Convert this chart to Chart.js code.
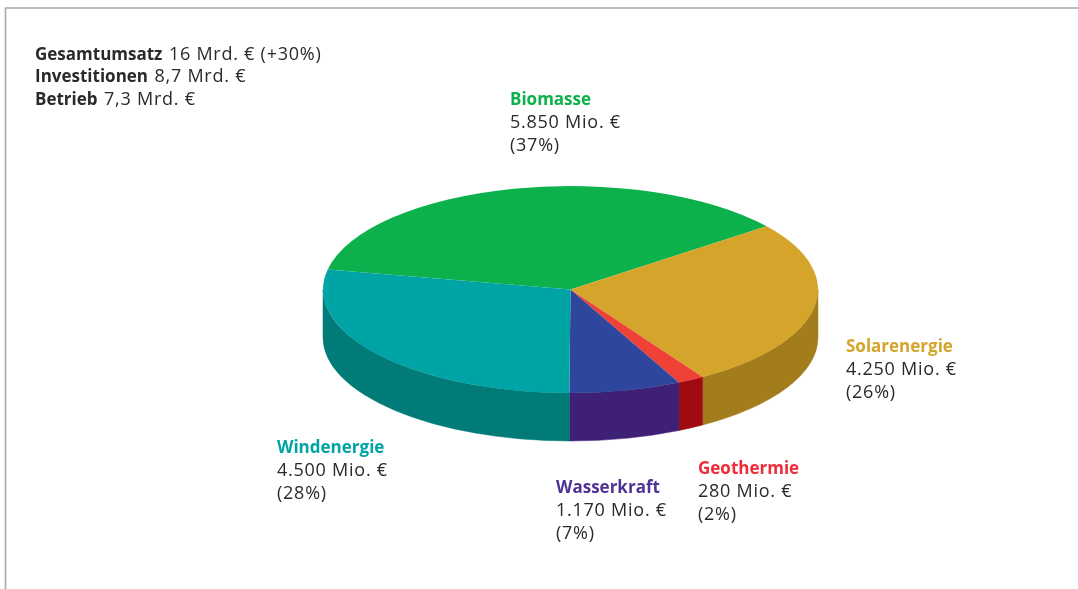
<!DOCTYPE html>
<html lang="de">
<head>
<meta charset="utf-8">
<style>html,body{margin:0;padding:0;background:#fff;overflow:hidden}#wrap{position:absolute;left:0;top:0;width:1078px;height:589px}</style>
<script src="https://cdn.jsdelivr.net/npm/chart.js@4"></script>
</head>
<body>
<div id="wrap"><canvas id="c" width="1078" height="589"></canvas></div>
<script>
const categories = ['Biomasse','Solarenergie','Geothermie','Wasserkraft','Windenergie'];
const values = [5850,4250,280,1170,4500];
const amountLabels = ['5.850 Mio. €','4.250 Mio. €','280 Mio. €','1.170 Mio. €','4.500 Mio. €'];
const percentLabels = ['(37%)','(26%)','(2%)','(7%)','(28%)'];
const summaryNames = ['Gesamtumsatz','Investitionen','Betrieb'];
const summaryValues = ['16 Mrd. € (+30%)','8,7 Mrd. €','7,3 Mrd. €'];

const topColors = ['#0DB14B','#D4A52A','#EF4136','#2E479C','#00A4A4'];
const sideColors = ['#0A8A3A','#A37D1C','#A00B12','#3E2176','#007B78'];
const labelColors = ['#0DB14B','#D4A52A','#EF2B3A','#4F3396','#00A4A4'];
const labelPos = [[510,105],[846,352],[698,474],[556,493],[277,453]];
const squash = 103.5/247.5, depth = 48, fontName = '"Open Sans"', textColor = '#2b2a2b';

const pie3d = {
  id:'pie3d',
  beforeDatasetsDraw(chart){
    const ctx = chart.ctx, arcs = chart.getDatasetMeta(0).data;
    ctx.save();
    ctx.strokeStyle='#a9a9a9'; ctx.lineWidth=1.6;
    ctx.beginPath(); ctx.moveTo(5.5,589); ctx.lineTo(5.5,8); ctx.lineTo(1078,8); ctx.stroke();
    ctx.restore();
    arcs.forEach((a,i)=>{
      const from = Math.max(a.startAngle,0), to = Math.min(a.endAngle,Math.PI);
      if(to<=from) return;
      const rx=a.outerRadius, ry=rx*squash;
      ctx.save();
      ctx.fillStyle=ctx.strokeStyle=sideColors[i]; ctx.lineWidth=.5;
      ctx.beginPath();
      ctx.ellipse(a.x,a.y,rx,ry,0,from,to,false);
      ctx.ellipse(a.x,a.y+depth,rx,ry,0,to,from,true);
      ctx.closePath(); ctx.fill(); ctx.stroke();
      ctx.restore();
    });
    const c = arcs[0];
    ctx.save();
    ctx.translate(c.x,c.y); ctx.scale(1,squash); ctx.translate(-c.x,-c.y);
  },
  afterDatasetsDraw(chart){
    const ctx = chart.ctx;
    ctx.restore();
    ctx.save();
    ctx.textBaseline='alphabetic'; ctx.textAlign='left';
    const bold=`700 17px ${fontName}`, regular=`400 18px ${fontName}`, spacing='0.75px';
    const setRegular=()=>{ctx.font=regular;ctx.letterSpacing=spacing;};
    const setBold=()=>{ctx.font=bold;ctx.letterSpacing='0px';};
    summaryNames.forEach((n,i)=>{
      const y=60+i*22.4;
      setBold(); ctx.fillStyle=textColor;
      ctx.fillText(n,35,y);
      const w=ctx.measureText(n).width+6.5;
      setRegular();
      ctx.fillText(summaryValues[i],35+w,y);
    });
    categories.forEach((n,i)=>{
      const [x,y]=labelPos[i];
      setBold(); ctx.fillStyle=labelColors[i];
      ctx.fillText(n,x,y);
      setRegular(); ctx.fillStyle=textColor;
      ctx.fillText(amountLabels[i],x,y+23);
      ctx.fillText(percentLabels[i],x,y+46);
    });
    ctx.restore();
  }
};

new Chart(document.getElementById('c'),{
  type:'pie',
  data:{labels:categories,datasets:[{data:values,backgroundColor:topColors,borderWidth:0,hoverOffset:0}]},
  options:{
    responsive:false,animation:false,rotation:-78.8,
    layout:{padding:{left:63,right:0,top:42,bottom:52}},
    plugins:{legend:{display:false},tooltip:{enabled:false},title:{display:false}}
  },
  plugins:[pie3d]
});
</script>
</body>
</html>
